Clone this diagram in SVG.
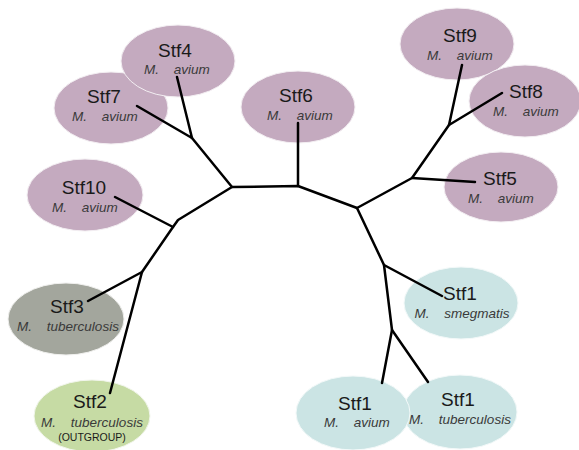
<svg xmlns="http://www.w3.org/2000/svg" width="579" height="450" viewBox="0 0 579 450">
<style>
.p{fill:#c4aabf;stroke:#f3eef2;stroke-width:1}
.g{fill:#a3a69d;stroke:#f0f0ee;stroke-width:1}
.gr{fill:#c6dba4;stroke:#f2f6ec;stroke-width:1}
.b{fill:#cbe4e4;stroke:#f3f9f9;stroke-width:1}
.t{font-family:"Liberation Sans",Arial,sans-serif;font-size:19px;fill:#1a1a1a;text-anchor:middle}
.s{font-family:"Liberation Sans",Arial,sans-serif;font-size:13.5px;font-style:italic;fill:#3a3a3a;text-anchor:middle;word-spacing:11px}
.o{font-family:"Liberation Sans",Arial,sans-serif;font-size:10.5px;fill:#1a1a1a;text-anchor:middle}
.e{fill:none;stroke:#000;stroke-width:2.5;stroke-linecap:round;stroke-linejoin:round}
</style>
<rect width="579" height="450" fill="#fff"/>
<g id="stf7"><ellipse class="p" cx="111" cy="108" rx="57" ry="36"/><text class="t" x="104" y="103">Stf7</text><text class="s" x="105" y="121">M. avium</text></g>
<g id="stf4"><ellipse class="p" cx="178" cy="61" rx="57" ry="36"/><text class="t" x="175" y="57">Stf4</text><text class="s" x="177" y="74">M. avium</text></g>
<g id="stf10"><ellipse class="p" cx="85" cy="195" rx="58" ry="36"/><text class="t" x="84" y="194">Stf10</text><text class="s" x="85" y="212">M. avium</text></g>
<g id="stf6"><ellipse class="p" cx="298" cy="107" rx="57" ry="36"/><text class="t" x="296" y="102">Stf6</text><text class="s" x="300" y="120">M. avium</text></g>
<g id="stf9"><ellipse class="p" cx="457" cy="44" rx="57" ry="36"/><text class="t" x="460" y="42">Stf9</text><text class="s" x="460" y="60">M. avium</text></g>
<g id="stf8"><ellipse class="p" cx="525" cy="101" rx="56" ry="36"/><text class="t" x="526" y="98">Stf8</text><text class="s" x="526" y="116">M. avium</text></g>
<g id="stf5"><ellipse class="p" cx="501" cy="187" rx="57" ry="35"/><text class="t" x="500" y="185">Stf5</text><text class="s" x="501" y="203">M. avium</text></g>
<g id="stf3"><ellipse class="g" cx="66" cy="319" rx="58" ry="36"/><text class="t" x="67" y="313">Stf3</text><text class="s" x="68" y="331">M. tuberculosis</text></g>
<g id="stf2"><ellipse class="gr" cx="92" cy="416" rx="58" ry="36"/><text class="t" x="90" y="408">Stf2</text><text class="s" x="92" y="427">M. tuberculosis</text><text class="o" x="92" y="441">(OUTGROUP)</text></g>
<g id="stf1-smegmatis"><ellipse class="b" cx="461" cy="303" rx="57" ry="36"/><text class="t" x="460" y="300">Stf1</text><text class="s" x="462" y="318">M. smegmatis</text></g>
<g id="stf1-tuberculosis"><ellipse class="b" cx="460" cy="412" rx="57" ry="37"/><text class="t" x="458" y="406">Stf1</text><text class="s" x="460" y="424">M. tuberculosis</text></g>
<g id="stf1-avium"><ellipse class="b" cx="353" cy="413" rx="57" ry="37"/><text class="t" x="355" y="410">Stf1</text><text class="s" x="357" y="427">M. avium</text></g>
<g id="connectors">
<polyline class="e" points="177,77 192,138 137,106"/>
<polyline class="e" points="192,138 232,187 298,186 357,208 412,178 449,125 462,65"/>
<line class="e" x1="449" y1="125" x2="502" y2="93"/>
<line class="e" x1="412" y1="178" x2="475" y2="182"/>
<line class="e" x1="298" y1="186" x2="298" y2="123"/>
<polyline class="e" points="357,208 384,265 442,296"/>
<polyline class="e" points="384,265 392,330 382,383"/>
<line class="e" x1="392" y1="330" x2="428" y2="382"/>
<polyline class="e" points="232,187 178,220 173,227 142,272 110,393"/>
<line class="e" x1="115" y1="197" x2="173" y2="227"/>
<line class="e" x1="142" y1="272" x2="88" y2="301"/>
</g>
</svg>
